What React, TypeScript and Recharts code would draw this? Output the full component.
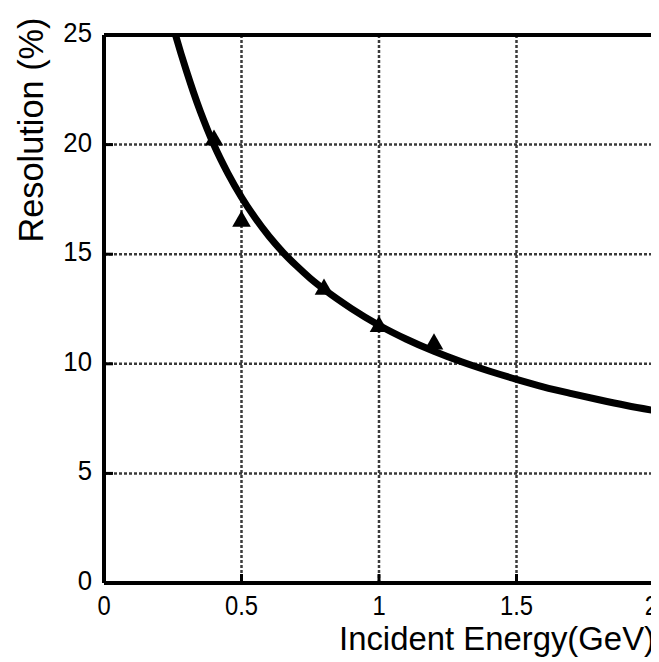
import React from 'react'
import { ComposedChart, Line, Scatter, XAxis, YAxis, ZAxis, CartesianGrid, ReferenceLine } from 'recharts'

// measured points (triangles)
const measEnergy = [0.4, 0.5, 0.8, 1.0, 1.2]
const measRes = [20.2, 16.5, 13.4, 11.7, 10.9]

// fitted curve
const fitEnergy = [0.26, 0.28, 0.3, 0.325, 0.35, 0.375, 0.4, 0.45, 0.5, 0.55, 0.6, 0.65, 0.7, 0.75, 0.8, 0.9, 1.0, 1.1, 1.2, 1.3, 1.4, 1.5, 1.6, 1.7, 1.8, 1.9, 2.0]
const fitRes = [25.0, 24.15, 23.35, 22.4, 21.52, 20.72, 19.98, 18.7, 17.6, 16.65, 15.82, 15.1, 14.47, 13.9, 13.4, 12.52, 11.76, 11.12, 10.57, 10.09, 9.67, 9.29, 8.94, 8.64, 8.36, 8.1, 7.87]

const xTicks = [0, 0.5, 1, 1.5, 2]
const yTicks = [0, 5, 10, 15, 20, 25]

const measData = measEnergy.map((e, i) => ({ e, r: measRes[i] }))
const fitData = fitEnergy.map((e, i) => ({ e, r: fitRes[i] }))

const FONT = '"Liberation Sans", Arial, sans-serif'

const XTick = (props: any) => {
  const { x, y, payload } = props
  const inner = payload.value !== 0 && payload.value !== 2
  const last = payload.value === 2
  return (
    <g>
      {inner && <line x1={x} x2={x} y1={y} y2={y - 9} stroke="#000" strokeWidth={3} />}
      <text
        transform={`translate(${last ? x + 4 : x},${y + 32}) scale(0.85,1)`}
        textAnchor={last ? 'end' : 'middle'}
        fontSize={28}
        fontFamily={FONT}
        fill="#000"
      >
        {payload.value}
      </text>
    </g>
  )
}

const YTick = (props: any) => {
  const { x, y, payload } = props
  const inner = payload.value !== 0 && payload.value !== 25
  return (
    <g>
      {inner && <line x1={x} x2={x + 9} y1={y} y2={y} stroke="#000" strokeWidth={3} />}
      <text
        transform={`translate(${x - 12},${y + 7}) scale(0.92,1)`}
        textAnchor="end"
        fontSize={28}
        fontFamily={FONT}
        fill="#000"
      >
        {payload.value}
      </text>
    </g>
  )
}

export default function App() {
  return (
    <div style={{ width: 651, height: 654, background: '#fff' }}>
      <ComposedChart
        width={651}
        height={654}
        margin={{ top: 27, right: 5, bottom: 0, left: 0 }}
        style={{ overflow: 'visible' }}
      >
        <CartesianGrid stroke="#3a3a3a" strokeWidth={2.5} strokeDasharray="3 2" />
        <XAxis
          dataKey="e"
          type="number"
          domain={[0, 2]}
          ticks={xTicks}
          allowDataOverflow
          height={79}
          tickSize={0}
          tickMargin={0}
          tickLine={false}
          axisLine={{ stroke: '#000', strokeWidth: 4 }}
          tick={<XTick />}
          label={{
            content: () => (
              <text
                x={647}
                y={642}
                textAnchor="end"
                fontSize={33}
                fontFamily={FONT}
                fill="#000"
                textLength={316}
                lengthAdjust="spacingAndGlyphs"
              >
                Incident Energy(GeV)
              </text>
            ),
          }}
        />
        <YAxis
          dataKey="r"
          type="number"
          domain={[0, 25]}
          ticks={yTicks}
          allowDataOverflow
          width={96}
          tickSize={0}
          tickMargin={0}
          tickLine={false}
          axisLine={{ stroke: '#000', strokeWidth: 4 }}
          tick={<YTick />}
          label={{
            content: () => (
              <text
                transform="translate(35,122) rotate(-90)"
                textAnchor="middle"
                fontSize={35}
                fontFamily={FONT}
                fill="#000"
                textLength={225}
                lengthAdjust="spacingAndGlyphs"
              >
                Resolution (%)
              </text>
            ),
          }}
        />
        <ZAxis range={[150, 150]} />
        <ReferenceLine y={25} stroke="#000" strokeWidth={4} />
        <ReferenceLine x={2} stroke="#000" strokeWidth={4} />
        <Scatter data={measData} dataKey="r" shape="triangle" fill="#000" isAnimationActive={false} />
        <Line
          data={fitData}
          dataKey="r"
          type="monotone"
          stroke="#000"
          strokeWidth={7}
          dot={false}
          activeDot={false}
          isAnimationActive={false}
        />
      </ComposedChart>
    </div>
  )
}
